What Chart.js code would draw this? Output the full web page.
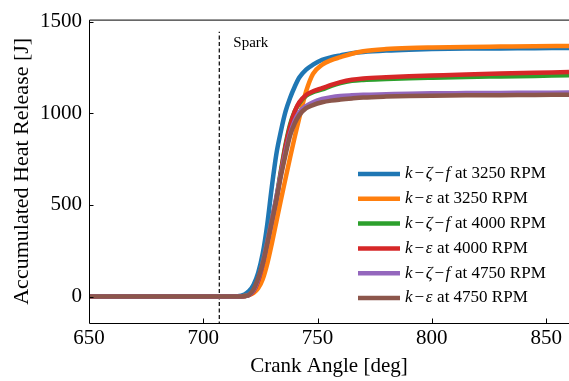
<!DOCTYPE html>
<html>
<head>
<meta charset="utf-8">
<script src="https://cdn.jsdelivr.net/npm/chart.js@4.4.1/dist/chart.umd.min.js"></script>
<style>
    html, body { margin: 0; padding: 0; background: #fff; }
</style>
</head>
<body>
<canvas id="heatChart" width="569" height="381"></canvas>
<script>
// crank angle samples [deg]
var crankAngle = [650, 700, 710, 715, 718, 720, 722, 724, 726, 728, 730, 732, 734, 736, 738, 740, 742, 745, 748, 752, 756, 760, 765, 770, 780, 790, 800, 815, 830, 845, 860];

// accumulated heat release [J]
var kzf3250 = [0, 0, 0, 2, 12, 30, 65, 130, 235, 395, 600, 780, 905, 1010, 1085, 1145, 1195, 1238, 1265, 1292, 1306, 1316, 1327, 1334, 1342, 1347, 1350, 1353, 1354, 1355, 1356];
var ke3250 = [0, 0, 0, 0, 3, 8, 20, 45, 95, 180, 290, 410, 530, 645, 760, 870, 975, 1120, 1215, 1265, 1290, 1306, 1325, 1338, 1350, 1356, 1359, 1362, 1364, 1366, 1367];
var kzf4000 = [0, 0, 0, 0, 3, 10, 35, 95, 185, 300, 420, 540, 690, 830, 940, 1010, 1055, 1095, 1115, 1130, 1150, 1165, 1177, 1182, 1187, 1191, 1194, 1198, 1201, 1204, 1207];
var ke4000 = [0, 0, 0, 0, 2, 8, 30, 85, 175, 290, 410, 530, 680, 820, 930, 1010, 1060, 1100, 1120, 1137, 1155, 1170, 1183, 1190, 1197, 1202, 1206, 1212, 1217, 1221, 1225];
var kzf4750 = [0, 0, 0, 0, 3, 10, 35, 95, 185, 300, 420, 545, 670, 790, 890, 960, 1005, 1040, 1060, 1078, 1088, 1094, 1098, 1101, 1104, 1107, 1109, 1110, 1111, 1112, 1113];
var ke4750 = [0, 0, 0, 0, 3, 10, 40, 100, 180, 290, 410, 530, 660, 775, 880, 945, 990, 1028, 1045, 1060, 1069, 1075, 1081, 1086, 1091, 1094, 1096, 1098, 1099, 1100, 1101];

var seriesLabels = ["k−ζ−f at 3250 RPM", "k−ε at 3250 RPM", "k−ζ−f at 4000 RPM", "k−ε at 4000 RPM", "k−ζ−f at 4750 RPM", "k−ε at 4750 RPM"];
var seriesColors = ["#1f77b4", "#ff7f0e", "#2ca02c", "#d62728", "#9467bd", "#8c564b"];
var xTicks = [650, 700, 750, 800, 850];
var yTicks = [0, 500, 1000, 1500];

var sparkAngle = 707;
var sparkTop = 1445;
var sparkText = "Spark";

var FONT = "'Liberation Serif', 'Times New Roman', serif";

function toPoints(values) {
    return crankAngle.map(function (a, i) { return { x: a, y: values[i] }; });
}

var allSeries = [kzf3250, ke3250, kzf4000, ke4000, kzf4750, ke4750];
var datasets = allSeries.map(function (vals, i) {
    return {
        label: seriesLabels[i],
        data: toPoints(vals),
        borderColor: seriesColors[i],
        backgroundColor: seriesColors[i],
        borderWidth: 4.5,
        pointRadius: 0,
        cubicInterpolationMode: "monotone",
        order: 10 - i
    };
});
// spark timing marker
datasets.push({
    label: sparkText,
    data: [{ x: sparkAngle, y: -300 }, { x: sparkAngle, y: sparkTop }],
    borderColor: "#000",
    borderWidth: 1.2,
    borderDash: [4, 2.5],
    pointRadius: 0,
    order: 20,
    isMarker: true
});

// axes frame, inward ticks, spark label, legend with italic math
var framePlugin = {
    id: "frame",
    afterDraw: function (chart) {
        var ctx = chart.ctx, a = chart.chartArea;
        var xs = chart.scales.x, ys = chart.scales.y;
        ctx.save();
        ctx.strokeStyle = "#000";
        ctx.lineWidth = 1;
        ctx.beginPath();
        ctx.moveTo(a.left + 0.5, a.top + 0.5);
        ctx.lineTo(a.left + 0.5, a.bottom + 0.5);
        ctx.lineTo(a.right, a.bottom + 0.5);
        ctx.moveTo(a.left + 0.5, a.top + 0.5);
        ctx.lineTo(a.right, a.top + 0.5);
        xTicks.forEach(function (v) {
            var px = Math.round(xs.getPixelForValue(v)) + 0.5;
            ctx.moveTo(px, a.bottom);
            ctx.lineTo(px, a.bottom - 4.5);
        });
        yTicks.forEach(function (v) {
            var py = Math.round(ys.getPixelForValue(v)) + 0.5;
            ctx.moveTo(a.left, py);
            ctx.lineTo(a.left + 4.5, py);
        });
        ctx.stroke();

        // spark label
        ctx.fillStyle = "#000";
        ctx.font = "15px " + FONT;
        ctx.textBaseline = "middle";
        ctx.textAlign = "left";
        ctx.fillText(sparkText, xs.getPixelForValue(sparkAngle) + 14, a.top + 23);

        // legend
        var lx = 358, ly = 174, rowH = 24.8;
        chart.data.datasets.forEach(function (ds, i) {
            if (ds.isMarker) return;
            var y = ly + i * rowH;
            ctx.strokeStyle = ds.borderColor;
            ctx.lineWidth = 4.5;
            ctx.beginPath();
            ctx.moveTo(lx, y);
            ctx.lineTo(lx + 42, y);
            ctx.stroke();
            var parts = ds.label.split(" at ");
            var x = lx + 47;
            ctx.fillStyle = "#000";
            parts[0].split("").forEach(function (ch) {
                if (ch === "−") {
                    ctx.font = "17px " + FONT;
                    x += 1.5;
                    ctx.fillText(ch, x, y);
                    x += ctx.measureText(ch).width + 1.5;
                } else {
                    ctx.font = "italic 17px " + FONT;
                    ctx.fillText(ch, x, y);
                    x += ctx.measureText(ch).width + 0.5;
                }
            });
            ctx.font = "17px " + FONT;
            ctx.fillText(" at " + parts[1], x, y);
        });
        ctx.restore();
    }
};

function plainTick(v) { return String(v); }

var ctx = document.getElementById("heatChart").getContext("2d");
new Chart(ctx, {
    type: "line",
    data: { datasets: datasets },
    options: {
        responsive: false,
        animation: false,
        layout: { padding: { top: 12, right: 0, left: 0, bottom: 0 } },
        plugins: {
            legend: { display: false },
            tooltip: { enabled: false }
        },
        scales: {
            x: {
                type: "linear",
                min: 650,
                max: 860,
                afterBuildTicks: function (s) { s.ticks = xTicks.map(function (v) { return { value: v }; }); },
                afterFit: function (s) { s.height = 58; },
                grid: { display: false, drawTicks: false },
                border: { display: false },
                ticks: { color: "#000", padding: 3, font: { family: FONT, size: 21 }, maxRotation: 0, callback: plainTick },
                title: { display: true, text: "Crank Angle [deg]", color: "#000", font: { family: FONT, size: 21, lineHeight: 1.2 }, padding: { top: 0, bottom: 2 } }
            },
            y: {
                type: "linear",
                min: -144,
                max: 1511,
                afterBuildTicks: function (s) { s.ticks = yTicks.map(function (v) { return { value: v }; }); },
                afterFit: function (s) { s.width = 89; },
                grid: { display: false, drawTicks: false },
                border: { display: false },
                ticks: { color: "#000", padding: 7, font: { family: FONT, size: 21 }, callback: plainTick },
                title: { display: true, text: "Accumulated Heat Release [J]", color: "#000", font: { family: FONT, size: 22, lineHeight: 1.2 }, padding: { top: 9, bottom: 0 } }
            }
        }
    },
    plugins: [framePlugin]
});
</script>
</body>
</html>
